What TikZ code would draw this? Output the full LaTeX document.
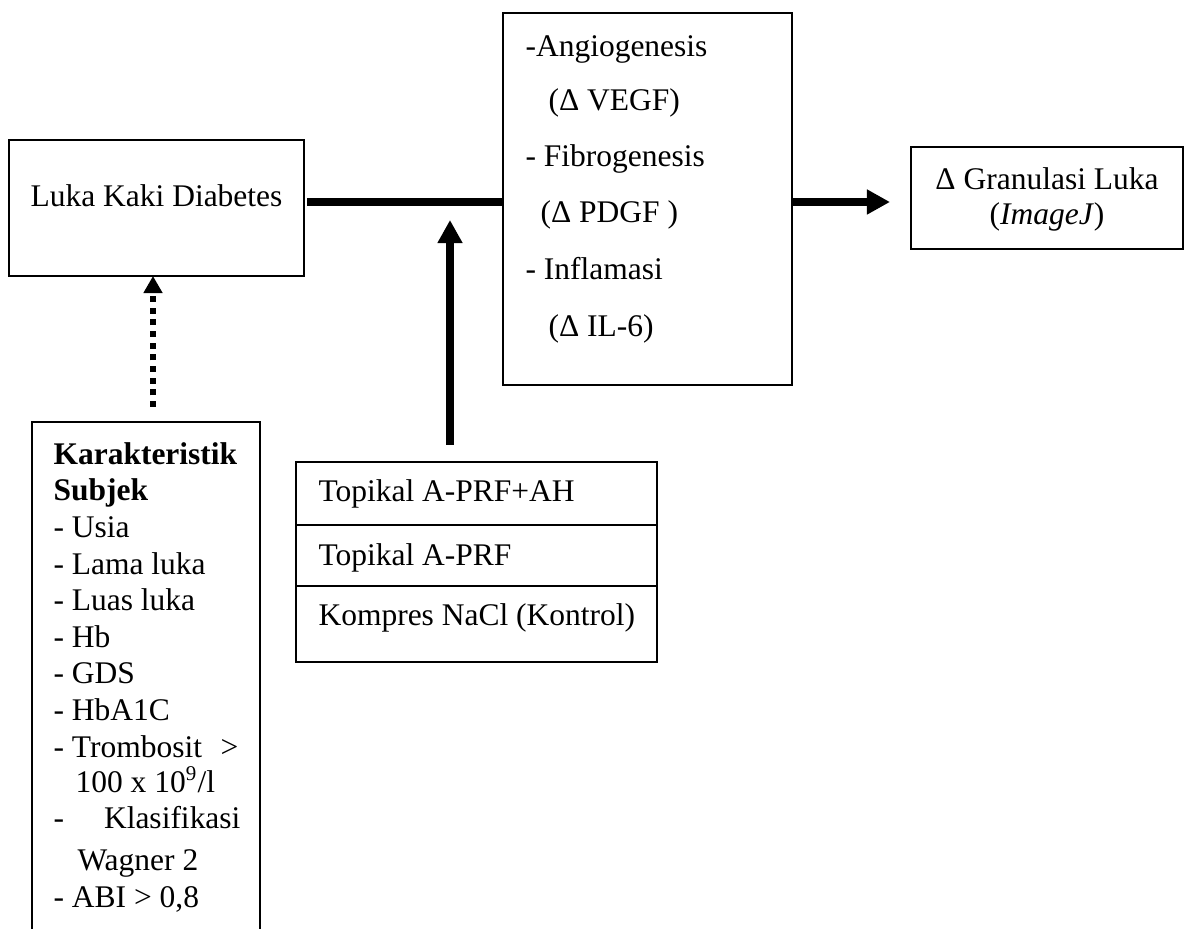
\documentclass[tikz,border=0pt]{standalone}
\usepackage{fontspec}
\setmainfont{Liberation Serif}
\usetikzlibrary{arrows.meta,fit,calc}
\tikzset{
  box/.style={draw=black, line width=0.6pt, inner sep=0pt, outer sep=0pt},
  txt/.style={inner sep=0pt, anchor=base west, font=\fontsize{12pt}{14pt}\selectfont},
  ctxt/.style={txt, anchor=base},
  rtxt/.style={txt, anchor=base east},
  bar/.style={line width=3.1pt},
  barhead/.style={-{Triangle[length=8.8pt,width=9pt]}},
  dotline/.style={line width=2.3pt, dash pattern=on 2.3pt off 2.15pt,
                  -{Triangle[length=6.5pt,width=6.9pt]}}
}
\begin{document}
\begin{tikzpicture}[x=0.381pt,y=-0.381pt]
\useasboundingbox (0,0) rectangle (1189,929);

% boxes
\node[box, fit={(9,140)(304,276)}] (luka) {};
\node[box, fit={(503,13)(792,385)}] (mid) {};
\node[box, fit={(911,147)(1183,249)}] (gran) {};
\node[box, fit={(296,462)(657,662)}] (treat) {};
\node[inner sep=0pt, outer sep=0pt, fit={(32,422)(260,929)}] (kar) {};
\draw[line width=0.6pt] (kar.south west) -- (kar.north west) -- (kar.north east) -- (kar.south east);

% rows of the treatment box
\coordinate (r1) at (0,525);
\coordinate (r2) at (0,586);
\draw[line width=0.6pt] (treat.west |- r1) -- (treat.east |- r1);
\draw[line width=0.6pt] (treat.west |- r2) -- (treat.east |- r2);

% texts
\node[ctxt] (lukat) at (156.5,207) {Luka Kaki Diabetes};

\node[txt] (m1) at (525,57) {-Angiogenesis};
\node[txt] (m2) at (548,111) {(Δ VEGF)};
\node[txt] (m3) at (525,167) {- Fibrogenesis};
\node[txt] (m4) at (540,223) {(Δ PDGF )};
\node[txt] (m5) at (525,280) {- Inflamasi};
\node[txt] (m6) at (548,337) {(Δ IL-6)};

\node[ctxt] (g1) at (1047,190) {Δ Granulasi Luka};
\node[ctxt] (g2) at (1047,225) {(\textit{ImageJ})};

\node[txt] (t1) at (318,502) {Topikal A-PRF+AH};
\node[txt] (t2) at (318,565) {Topikal A-PRF};
\node[txt] (t3) at (318,625) {Kompres NaCl (Kontrol)};

\foreach \yy/\lbl [count=\i] in {
  465/{\textbf{Karakteristik}},
  501/{\textbf{Subjek}},
  538/{- Usia},
  574/{- Lama luka},
  610/{- Luas luka},
  647/{- Hb},
  683/{- GDS},
  720/{- HbA1C},
  757/{- Trombosit},
  828/{-},
  907/{- ABI > 0,8}}
  \node[txt] (k\i) at (53,\yy) {\lbl};
\node[rtxt] (kgt) at (239,757) {>};
\node[txt] (knum) at (75,792) {100 x 10\textsuperscript{9}/l};
\node[rtxt] (kkl) at (241,828) {Klasifikasi};
\node[txt] (kwg) at (77,870) {Wagner 2};

% connectors
\coordinate (j) at (450,202);
\coordinate (d) at (153,0);
\draw[bar] ($(luka.east |- j)+(3,0)$) -- (mid.west |- j);
\draw[bar, barhead] (mid.east |- j) -- ($(gran.west |- j)+(-21,0)$);
\draw[bar, barhead] ($(j |- treat.north)+(0,-17)$) -- ($(j)+(0,18)$);
\draw[dotline] ($(d |- kar.north)+(0,-15)$) -- (d |- luka.south);
\end{tikzpicture}
\end{document}
